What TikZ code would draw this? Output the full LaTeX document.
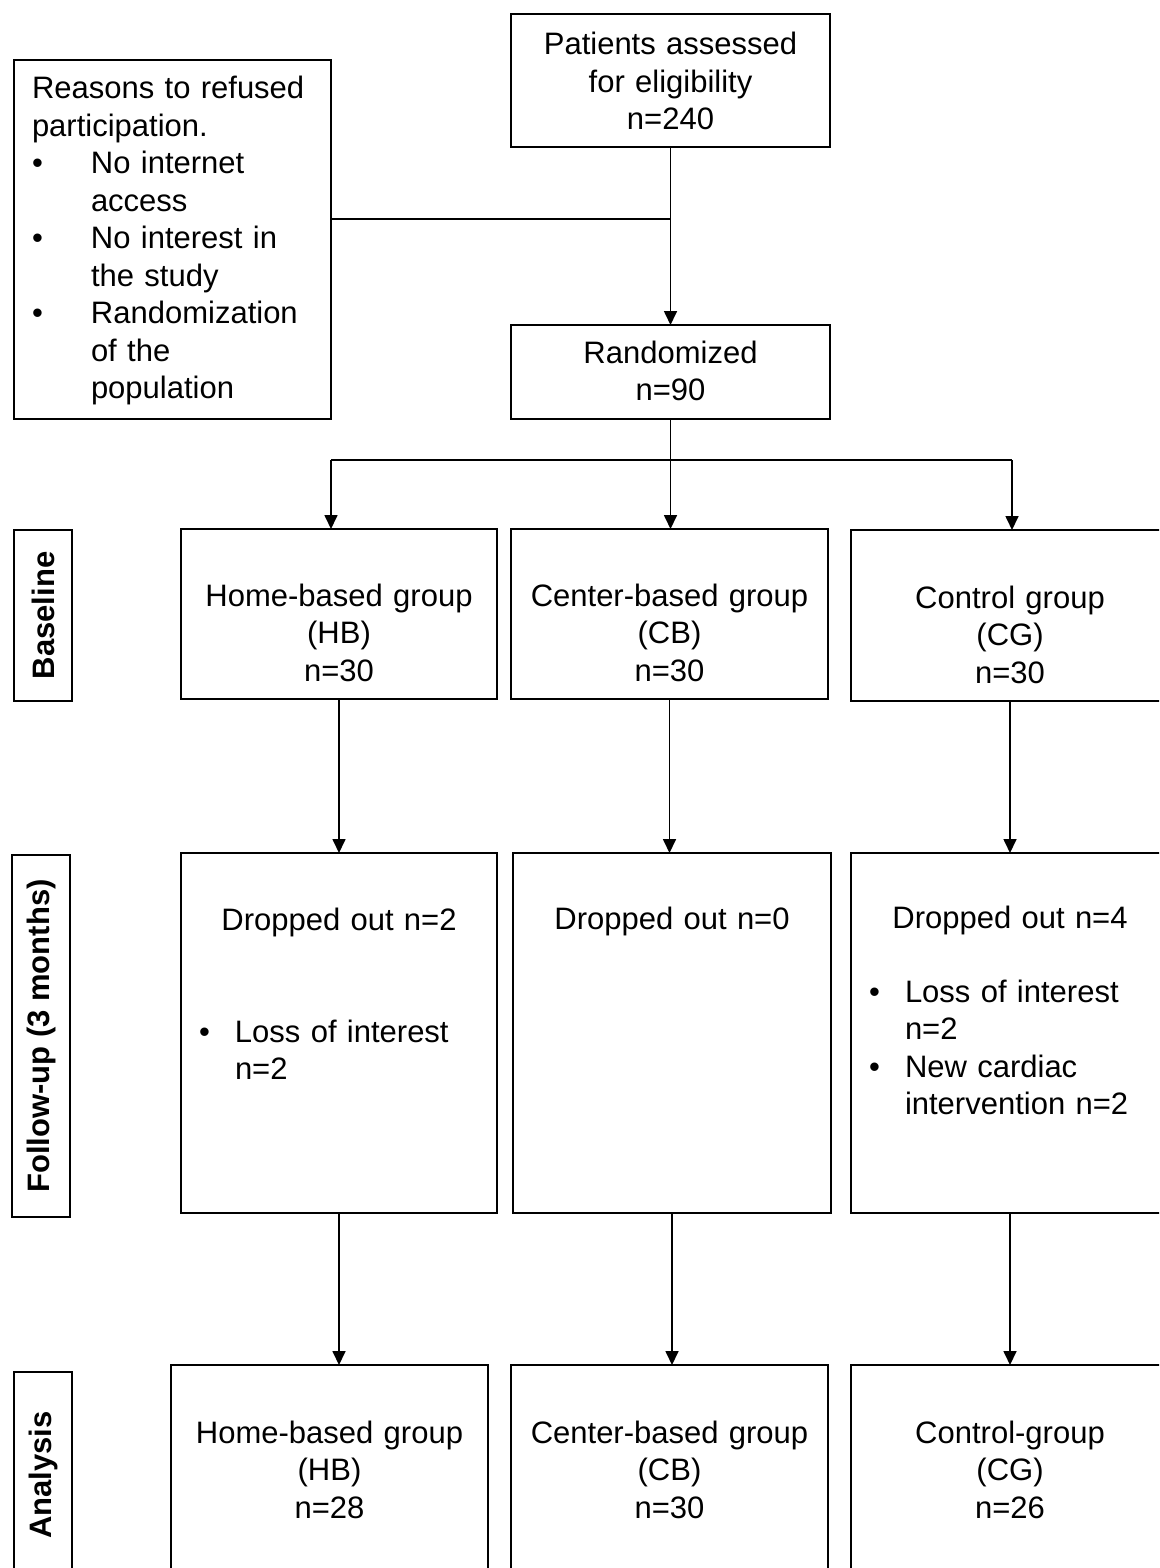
\documentclass[tikz,border=0pt]{standalone}
\usepackage{fontspec}
\setmainfont{Liberation Sans}
\usetikzlibrary{arrows.meta}

\tikzset{
	flowbox/.style={draw, line width=1.7pt, inner ysep=0pt, outer sep=0pt, anchor=north,
		font=\fontsize{31}{37.5}\selectfont},
	centerbox/.style={flowbox, inner xsep=0pt, align=center},
	listbox/.style={flowbox, inner xsep=18pt, align=left},
	phase/.style={draw, line width=1.7pt, rotate=90, inner sep=0pt, outer sep=0pt,
		font=\fontsize{31}{37.5}\selectfont\bfseries},
	flowline/.style={line width=1.7pt},
	flowarrow/.style={flowline, -{Triangle[width=13pt,length=14pt]}}
}

\begin{document}
\begin{tikzpicture}[x=1pt, y=-1pt]
	\newcommand{\hangR}{59pt}
	\newcommand{\hangF}{36pt}
	\newcommand{\bul}[1]{\makebox[#1][l]{\textbullet}}

	\useasboundingbox (0,0) rectangle (1159,1568);
	\clip (0,0) rectangle (1159,1568);

	% enrollment
	\node[centerbox, text width=319pt, text height=41pt, text depth=92pt] (patients) at (670.5,14)
		{Patients assessed\\for eligibility\\n=240};
	\node[listbox, text width=281pt, text height=39pt, text depth=320pt] (reasons) at (172.5,60)
		{Reasons to refused\\participation.\\
		\bul{\hangR}No internet\\\hspace*{\hangR}access\\
		\bul{\hangR}No interest in\\\hspace*{\hangR}the study\\
		\bul{\hangR}Randomization\\\hspace*{\hangR}of the\\\hspace*{\hangR}population};
	\node[centerbox, text width=319pt, text height=38pt, text depth=56pt] (randomized) at (670.5,325)
		{Randomized\\n=90};

	% baseline
	\node[phase, minimum width=171pt, minimum height=58pt] (phase_base) at (43,615.5) {Baseline};
	\node[centerbox, text width=316pt, text height=77pt, text depth=93pt] (base_hb) at (339,529)
		{Home-based group\\(HB)\\n=30};
	\node[centerbox, text width=317pt, text height=77pt, text depth=93pt] (base_cb) at (669.5,529)
		{Center-based group\\(CB)\\n=30};
	\node[centerbox, text width=318pt, text height=78pt, text depth=93pt] (base_cg) at (1010,530)
		{Control group\\(CG)\\n=30};

	% follow-up
	\node[phase, minimum width=362pt, minimum height=58pt] (phase_fu) at (41,1036) {Follow-up (3 months)};
	\node[listbox, text width=280pt, text height=77pt, text depth=283pt] (fu_hb) at (339,853)
		{{\centering Dropped out n=2\par}\vspace{74.5pt}
		\bul{\hangF}Loss of interest\\\hspace*{\hangF}n=2};
	\node[listbox, text width=282pt, text height=76pt, text depth=284pt] (fu_cb) at (672,853)
		{{\centering Dropped out n=0\par}};
	\node[listbox, text width=282pt, text height=75pt, text depth=285pt] (fu_cg) at (1010,853)
		{{\centering Dropped out n=4\par}\vspace{36.5pt}
		\bul{\hangF}Loss of interest\\\hspace*{\hangF}n=2\\
		\bul{\hangF}New cardiac\\\hspace*{\hangF}intervention n=2};

	% analysis
	\node[phase, minimum width=206pt, minimum height=58pt] (phase_an) at (43,1475) {Analysis};
	\node[centerbox, text width=317pt, text height=78pt, text depth=137pt] (an_hb) at (329.5,1365)
		{Home-based group\\(HB)\\n=28};
	\node[centerbox, text width=317pt, text height=78pt, text depth=137pt] (an_cb) at (669.5,1365)
		{Center-based group\\(CB)\\n=30};
	\node[centerbox, text width=318pt, text height=78pt, text depth=137pt] (an_cg) at (1010,1365)
		{Control-group\\(CG)\\n=26};

	% connectors
	\coordinate (join) at (670.5,219);
	\coordinate (split) at (670.5,460);
	\coordinate (split_left) at (331,460);
	\coordinate (split_right) at (1012,460);

	\draw[flowarrow] (patients.south) -- (randomized.north);
	\draw[flowline] (reasons.east |- join) -- (join);
	\draw[flowline] (randomized.south) -- (split);
	\draw[flowline] (split_left) -- (split_right);
	\draw[flowarrow] (split_left) -- (split_left |- base_hb.north);
	\draw[flowarrow] (split) -- (split |- base_cb.north);
	\draw[flowarrow] (split_right) -- (split_right |- base_cg.north);

	\draw[flowarrow] (base_hb.south) -- (base_hb.south |- fu_hb.north);
	\draw[flowarrow] (base_cb.south) -- (base_cb.south |- fu_cb.north);
	\draw[flowarrow] (base_cg.south) -- (base_cg.south |- fu_cg.north);

	\draw[flowarrow] (fu_hb.south) -- (fu_hb.south |- an_hb.north);
	\draw[flowarrow] (fu_cb.south) -- (fu_cb.south |- an_cb.north);
	\draw[flowarrow] (fu_cg.south) -- (fu_cg.south |- an_cg.north);
\end{tikzpicture}
\end{document}
